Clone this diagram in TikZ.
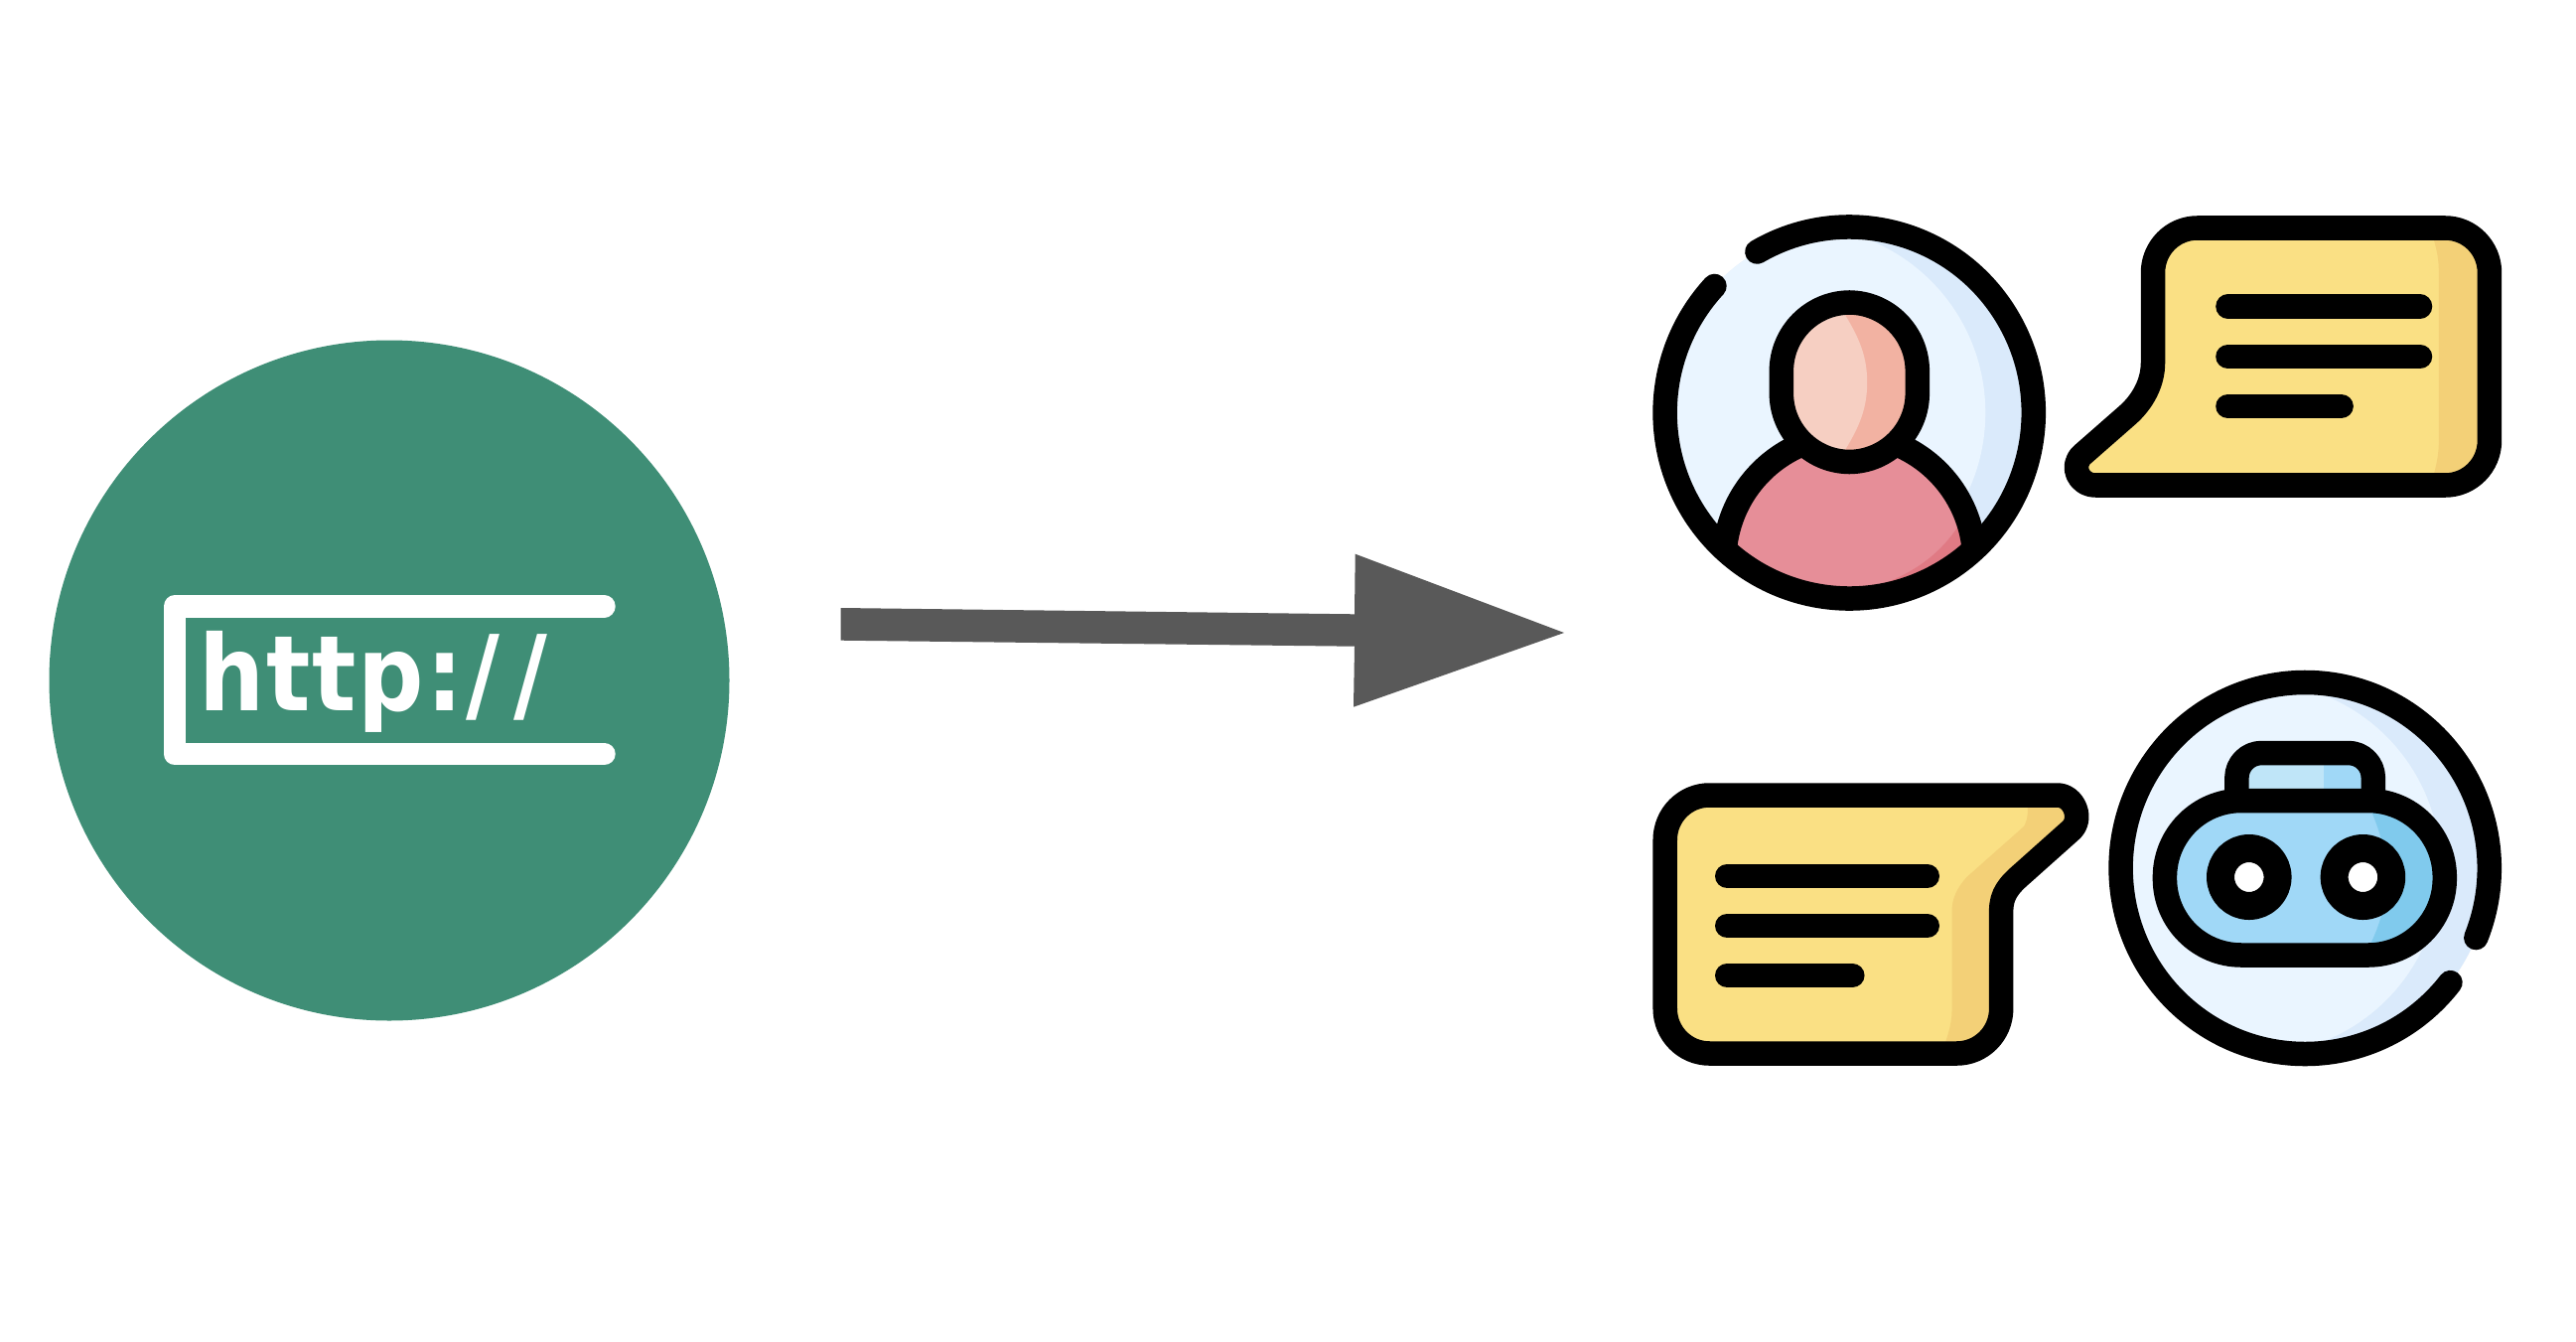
\documentclass[tikz,border=0pt]{standalone}
\usepackage{fontspec}
\setmainfont{DejaVu Sans}
\definecolor{urlgreen}{HTML}{3F8E76}
\definecolor{arrowgrey}{HTML}{595959}
\definecolor{discpale}{HTML}{EAF5FF}
\definecolor{discshade}{HTML}{DAEAFB}
\definecolor{facepale}{HTML}{F6CFC2}
\definecolor{faceshade}{HTML}{F2B2A2}
\definecolor{bodypale}{HTML}{E68E98}
\definecolor{bodyshade}{HTML}{E07A84}
\definecolor{bubblepale}{HTML}{FAE084}
\definecolor{bubbleshade}{HTML}{F3D077}
\definecolor{botpale}{HTML}{A0D8F7}
\definecolor{botshade}{HTML}{80CAED}
\definecolor{botlight}{HTML}{BFE5F8}
\tikzset{
  iconline/.style={draw=black,line width=0.245cm,line cap=round,line join=round},
  urlline/.style={draw=white,line width=0.224cm,line cap=round,line join=round}
}
\def\bubbleone{(2172,985) .. controls (2172,965) and (2162,946) .. (2146,932) -- (2100,892) .. controls (2088,881) and (2096,861.5) .. (2114,861.5) -- (2468.5,861.5) arc[start angle=-90,end angle=0,radius=45] -- (2513.5,1075.5) arc[start angle=0,end angle=90,radius=45] -- (2217,1120.5) arc[start angle=90,end angle=180,radius=45] -- cycle}
\def\bubbletwo{(2075,549.5) .. controls (2092,549.5) and (2102,525) .. (2088,513.5) -- (2040,471) .. controls (2026,459) and (2018,450) .. (2018,433) -- (2018,334.5) arc[start angle=0,end angle=-90,radius=45] -- (1722,289.5) arc[start angle=-90,end angle=-180,radius=45] -- (1677,504.5) arc[start angle=180,end angle=90,radius=45] -- cycle}
\begin{document}
\begin{tikzpicture}[x=0.01cm,y=0.01cm]
\useasboundingbox (0,0) rectangle (2594,1350);
\fill[white] (0,0) rectangle (2594,1350);
\fill[urlgreen] (392,665) circle (342.5);
\draw[urlline] (608.5,739.7) -- (176,739.7) -- (176,591) -- (608.5,591);
\node (urltext) at (200,634.5)[anchor=base west,inner sep=0pt,text=white,xscale=0.88]{\fontsize{30}{36}\selectfont\bfseries\addfontfeatures{LetterSpace=2}http:\kern1pt/\kern4.5pt/};
\fill[arrowgrey] (846.5,738) -- (1364,731.7) -- (1364.7,792.3) -- (1575,713) -- (1363,638.3) -- (1364,699.3) -- (846.5,705.3) -- cycle;
\begin{scope}[xshift=0.123cm,xscale=0.9925]
% person
\coordinate (person) at (1864,934.5);
\fill[discshade] (person) circle (187);
\begin{scope}
\clip (person) circle (187);
\fill[discpale] (1815,934.5) circle (187);
\fill[bodypale] (1864,785) circle (127);
\fill[bodyshade] (1985,838) .. controls (1960,790) and (1925,770) .. (1880,756) -- (2000,740) -- cycle;
\draw[iconline] (1864,785) circle (127);
\end{scope}
\fill[faceshade,rounded corners=0.69cm] (1795,885) rectangle (1933,1045.5);
\begin{scope}
\clip[rounded corners=0.69cm] (1795,885) rectangle (1933,1045.5);
\fill[facepale] (1855,1040) .. controls (1875,1010) and (1882,990) .. (1882,965) .. controls (1882,940) and (1875,920) .. (1855,890) -- (1790,890) -- (1790,1040) -- cycle;
\end{scope}
\draw[iconline,rounded corners=0.69cm] (1795,885) rectangle (1933,1045.5);
\draw[iconline] (person) ++(120:187) arc[start angle=120,end angle=-223,radius=187];
% bubble of the person
\fill[bubblepale] \bubbleone;
\begin{scope}
\clip \bubbleone;
\fill[bubbleshade] (2452,1125) .. controls (2458,1105) and (2462,1095) .. (2462,1075) -- (2462,905) .. controls (2462,890) and (2458,875) .. (2452,855) -- (2530,855) -- (2530,1125) -- cycle;
\end{scope}
\draw[iconline] \bubbleone;
\foreach \y/\e in {1041.5/2443,991/2443,941/2363}
    \draw[iconline] (2248,\y) -- (\e,\y);
% bubble of the robot
\fill[bubblepale] \bubbletwo;
\begin{scope}
\clip \bubbletwo;
\fill[bubbleshade] (2045,560) -- (2045,537) .. controls (2045,528) and (2044,523) .. (2041,518) -- (1983,467) .. controls (1973,456) and (1968,445) .. (1968,433) -- (1968,333) .. controls (1968,318) and (1963,305) .. (1956,285) -- (2110,285) -- (2110,560) -- cycle;
\end{scope}
\draw[iconline] \bubbletwo;
\foreach \y/\e in {468/1943,418/1943,368/1867}
    \draw[iconline] (1740,\y) -- (\e,\y);
% robot
\coordinate (robot) at (2326.5,476);
\fill[discshade] (robot) circle (187);
\begin{scope}
\clip (robot) circle (187);
\fill[discpale] (2277,476) circle (187);
\end{scope}
\fill[botlight] (2257,544) rectangle (2345,592);
\fill[botpale] (2345,544) rectangle (2395.5,592);
\draw[iconline,rounded corners=0.25cm] (2257,544) -- (2257,592) -- (2395.5,592) -- (2395.5,544);
\fill[botpale,rounded corners=0.77cm] (2184,388.5) rectangle (2468,544);
\begin{scope}
\clip[rounded corners=0.77cm] (2184,388.5) rectangle (2468,544);
\fill[botshade] (2385,550) .. controls (2402,520) and (2409,490) .. (2409,467) .. controls (2409,440) and (2402,415) .. (2385,385) -- (2480,385) -- (2480,550) -- cycle;
\end{scope}
\draw[iconline,rounded corners=0.77cm] (2184,388.5) rectangle (2468,544);
\foreach \x in {2269.5,2385}
    \draw[iconline,line width=0.28cm,fill=white] (\x,467) circle (29);
\draw[iconline] (robot) ++(-38:187) arc[start angle=-38,end angle=-382,radius=187];
\end{scope}
\end{tikzpicture}
\end{document}
